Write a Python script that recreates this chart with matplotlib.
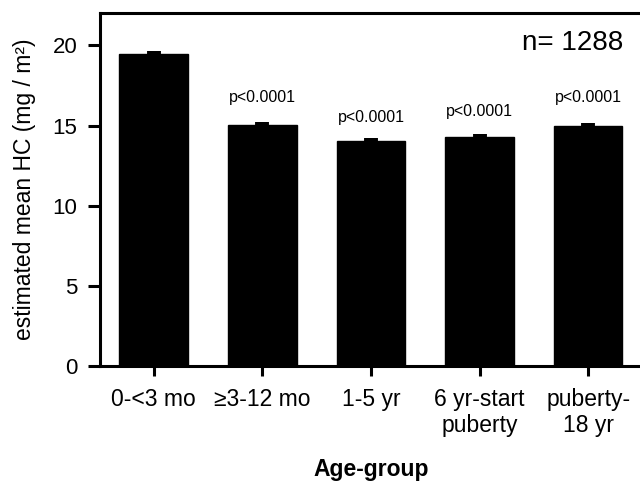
import numpy as np
import matplotlib
matplotlib.use("Agg")
import matplotlib.pyplot as plt

plt.rcParams['font.family'] = ['Liberation Sans', 'DejaVu Sans']

# values
groups = ["0-<3 mo", "\u22653-12 mo", "1-5 yr", "6 yr-start\npuberty", "puberty-\n18 yr"]
mean_hc = [19.48, 15.02, 14.04, 14.29, 14.97]
sem_hc = [0.17, 0.22, 0.18, 0.2, 0.2]
p_labels = ["", "p<0.0001", "p<0.0001", "p<0.0001", "p<0.0001"]
p_y = [0, 16.76, 15.5, 15.85, 16.76]
n_total = 1288

fig = plt.figure(figsize=(6.4, 4.82), dpi=100)
ax = fig.add_axes([0.157, 0.2407, 0.847, 0.7317])

x = np.arange(len(groups))
ax.bar(x, mean_hc, width=0.63, color='black', edgecolor='black', zorder=2)
ax.errorbar(x, mean_hc, yerr=sem_hc, fmt='none', ecolor='black',
            elinewidth=10, capsize=0, zorder=1)

for xi, lab, yy in zip(x, p_labels, p_y):
    if lab:
        ax.text(xi, yy, lab, ha='center', va='center', fontsize=11.5)

ax.text(0.9637, 0.9158, "n= %d" % n_total, transform=ax.transAxes,
        ha='right', va='center', fontsize=20)

ax.set_xlim(-0.49, 4.5)
ax.set_ylim(0, 22)
ax.set_yticks([0, 5, 10, 15, 20])
ax.set_xticks(x)
ax.set_xticklabels(groups, multialignment='center', linespacing=1.15)

for s in ax.spines.values():
    s.set_linewidth(2.2)
ax.tick_params(axis='y', length=8.6, width=2.2, labelsize=16, pad=8)
ax.tick_params(axis='x', length=7, width=2.2, labelsize=16.5, pad=9)

ax.set_ylabel("estimated mean HC (mg / m\u00b2)", fontsize=16.5, labelpad=12)
ax.set_xlabel("Age-group", fontsize=16.5, fontweight='bold', labelpad=15)

fig.savefig("out.png", dpi=100)
